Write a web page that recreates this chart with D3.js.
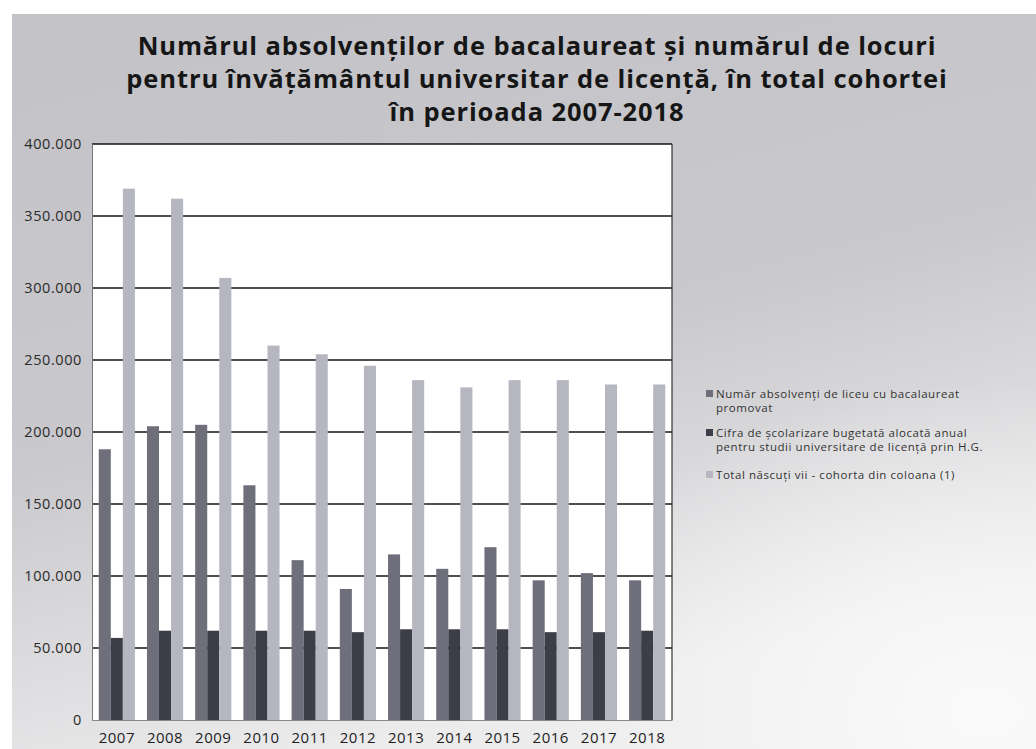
<!DOCTYPE html>
<html>
<head>
<meta charset="utf-8">
<script src="https://cdn.jsdelivr.net/npm/d3@7"></script>
<style>
  body { margin: 0; background: #fff; }
  svg { display: block; }
  .title { font-family: 'Open Sans', sans-serif; font-weight: bold; font-size: 25.5px; fill: #161616; letter-spacing: 0.9px; }
  .yaxis text { font-family: 'Open Sans', sans-serif; font-size: 14.5px; fill: #2a2a2a; letter-spacing: 0.6px; }
  .xaxis text { font-family: 'Open Sans', sans-serif; font-size: 15px; fill: #1e1e1e; letter-spacing: 0.5px; }
  .legend text { font-family: 'Open Sans', sans-serif; font-size: 11.5px; fill: #333; letter-spacing: 0.55px; }
</style>
</head>
<body>
<div id="container"></div>
<script>
// values in persons
const years = ['2007', '2008', '2009', '2010', '2011', '2012', '2013', '2014', '2015', '2016', '2017', '2018'];
const absolventi = [188000, 204000, 205000, 163000, 111000, 91000, 115000, 105000, 120000, 97000, 102000, 97000];
const cifra = [57000, 62000, 62000, 62000, 62000, 61000, 63000, 63000, 63000, 61000, 61000, 62000];
const nascuti = [369000, 362000, 307000, 260000, 254000, 246000, 236000, 231000, 236000, 236000, 233000, 233000];
const yTicks = [0, 50000, 100000, 150000, 200000, 250000, 300000, 350000, 400000];

const seriesNames = [
  ['Număr absolvenți de liceu cu bacalaureat', 'promovat'],
  ['Cifra de școlarizare bugetată alocată anual', 'pentru studii universitare de licență prin H.G.'],
  ['Total născuți vii - cohorta din coloana (1)']
];
const seriesColors = ['#6f6f7b', '#3d3d47', '#b6b6c0'];
const titleLines = [
  'Numărul absolvenților de bacalaureat și numărul de locuri',
  'pentru învățământul universitar de licență, în total cohortei',
  'în perioada 2007-2018'
];

const width = 1036, height = 749;
const margin = { top: 144, right: 364, bottom: 29, left: 92 };
const innerW = width - margin.left - margin.right;
const innerH = height - margin.top - margin.bottom;

const locale = d3.formatLocale({ decimal: ',', thousands: '.', grouping: [3], currency: ['', ''] });
const fmt = locale.format(',');

let svg = d3.select('#container').append('svg')
  .attr('width', width)
  .attr('height', height);

main();

function main() {
  drawBackground();
  drawTitle();
  drawChart();
  drawLegend();
}

function drawBackground() {
  let defs = svg.append('defs');
  let grad = defs.append('linearGradient')
    .attr('id', 'bg')
    .attr('x1', 0).attr('y1', 0).attr('x2', 0.35).attr('y2', 1);
  grad.append('stop').attr('offset', '0%').attr('stop-color', '#c2c2c7');
  grad.append('stop').attr('offset', '55%').attr('stop-color', '#c9c9cd');
  grad.append('stop').attr('offset', '100%').attr('stop-color', '#ececed');

  let fade = defs.append('radialGradient')
    .attr('id', 'fade')
    .attr('cx', 0.95).attr('cy', 0.95).attr('r', 0.45);
  fade.append('stop').attr('offset', '0%').attr('stop-color', '#fafafa').attr('stop-opacity', 1);
  fade.append('stop').attr('offset', '100%').attr('stop-color', '#fafafa').attr('stop-opacity', 0);

  svg.append('rect')
    .attr('x', 12).attr('y', 14)
    .attr('width', width - 12).attr('height', height - 14)
    .attr('fill', 'url(#bg)');
  svg.append('rect')
    .attr('x', 12).attr('y', 14)
    .attr('width', width - 12).attr('height', height - 14)
    .attr('fill', 'url(#fade)');
}

function drawTitle() {
  svg.append('g')
    .selectAll('text')
    .data(titleLines)
    .enter()
    .append('text')
    .attr('class', 'title')
    .attr('x', 537)
    .attr('y', (d, i) => 55 + i * 33)
    .attr('text-anchor', 'middle')
    .text((d) => d);
}

function drawChart() {
  let g = svg.append('g')
    .attr('transform', `translate(${margin.left},${margin.top})`);

  let x0 = d3.scaleBand()
    .domain(years)
    .range([0, innerW])
    .paddingInner(0.25)
    .paddingOuter(0.14);

  let x1 = d3.scaleBand()
    .domain([0, 1, 2])
    .range([0, x0.bandwidth()]);

  let y = d3.scaleLinear()
    .domain([0, 400000])
    .range([innerH, 0]);

  g.append('rect')
    .attr('width', innerW)
    .attr('height', innerH)
    .attr('fill', '#fff');

  // gridlines
  g.append('g')
    .selectAll('line')
    .data(yTicks.filter((d) => d > 0))
    .enter()
    .append('line')
    .attr('x1', 0)
    .attr('x2', innerW)
    .attr('y1', (d) => y(d))
    .attr('y2', (d) => y(d))
    .attr('stroke', '#141414')
    .attr('stroke-width', 1.6);

  g.append('line')
    .attr('x1', innerW).attr('x2', innerW)
    .attr('y1', 0).attr('y2', innerH)
    .attr('stroke', '#333')
    .attr('stroke-width', 1.2);

  let rows = years.map((yr, i) => ({ year: yr, values: [absolventi[i], cifra[i], nascuti[i]] }));

  g.append('g')
    .selectAll('g')
    .data(rows)
    .enter()
    .append('g')
    .attr('transform', (d) => `translate(${x0(d.year)},0)`)
    .selectAll('rect')
    .data((d) => d.values.map((v, k) => ({ k: k, v: v })))
    .enter()
    .append('rect')
    .attr('x', (d) => x1(d.k))
    .attr('width', x1.bandwidth())
    .attr('y', (d) => y(d.v))
    .attr('height', (d) => innerH - y(d.v))
    .attr('fill', (d) => seriesColors[d.k]);

  let yAxis = g.append('g')
    .attr('class', 'yaxis')
    .call(d3.axisLeft(y).tickValues(yTicks).tickFormat(fmt).tickSize(0).tickPadding(10));
  yAxis.select('.domain')
    .attr('stroke', '#777')
    .attr('stroke-width', 1);

  let xAxis = g.append('g')
    .attr('class', 'xaxis')
    .attr('transform', `translate(0,${innerH})`)
    .call(d3.axisBottom(x0).tickSize(0).tickPadding(12));
  xAxis.select('.domain')
    .attr('stroke', '#888')
    .attr('stroke-width', 1);
}

function drawLegend() {
  let legend = svg.append('g')
    .attr('class', 'legend')
    .attr('transform', 'translate(706,0)');
  let ys = [398, 437, 479];

  let item = legend.selectAll('g')
    .data(seriesNames)
    .enter()
    .append('g')
    .attr('transform', (d, i) => `translate(0,${ys[i]})`);

  item.append('rect')
    .attr('x', 0)
    .attr('y', -8)
    .attr('width', 7)
    .attr('height', 7)
    .attr('fill', (d, i) => seriesColors[i]);

  item.append('text')
    .selectAll('tspan')
    .data((d) => d)
    .enter()
    .append('tspan')
    .attr('x', 10)
    .attr('y', (d, j) => j * 14)
    .text((d) => d);
}
</script>
</body>
</html>
